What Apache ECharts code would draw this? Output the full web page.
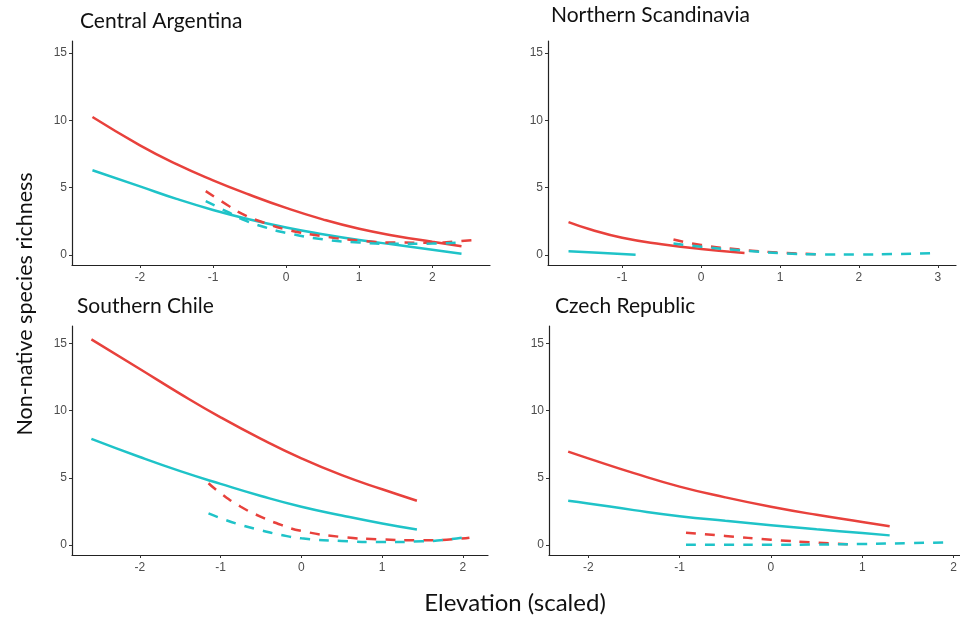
<!DOCTYPE html>
<html>
<head>
<meta charset="utf-8">
<script src="https://cdn.jsdelivr.net/npm/echarts@6/dist/echarts.min.js"></script>
<style>html,body{margin:0;padding:0;background:#fff}#c{width:960px;height:617px}</style>
</head>
<body>
<div id="c"></div>
<script>
// ---- data ----
const panelTitles = ["Central Argentina", "Northern Scandinavia", "Southern Chile", "Czech Republic"];
const yTicks = [0, 5, 10, 15];
const xTicksArgentina = [-2, -1, 0, 1, 2];
const xTicksScandinavia = [-1, 0, 1, 2, 3];
const xTicksChile = [-2, -1, 0, 1, 2];
const xTicksCzech = [-2, -1, 0, 1, 2];

// Central Argentina
const argRedSolid = [[-2.65,10.25],[-2,8.15],[-1.5,6.75],[-1,5.55],[-0.5,4.48],[0,3.5],[0.5,2.65],[1,1.95],[1.5,1.42],[2,0.98],[2.4,0.65]];
const argCyanSolid = [[-2.65,6.3],[-2,5.1],[-1.5,4.17],[-1,3.35],[-0.5,2.65],[0,2.05],[0.5,1.55],[1,1.12],[1.5,0.76],[2,0.4],[2.4,0.1]];
const argRedDashed = [[-1.1,4.75],[-0.8,3.7],[-0.6,3.05],[-0.3,2.4],[0,1.9],[0.5,1.4],[1,1.07],[1.5,0.93],[2,0.92],[2.3,1.0],[2.55,1.1]];
const argCyanDashed = [[-1.1,4.0],[-0.8,3.2],[-0.6,2.65],[-0.3,2.08],[0,1.65],[0.5,1.17],[1,0.93],[1.5,0.83],[2,0.85],[2.4,0.95]];

// Northern Scandinavia
const scaRedSolid = [[-1.68,2.45],[-1.4,1.9],[-1,1.28],[-0.5,0.8],[0,0.45],[0.55,0.15]];
const scaCyanSolid = [[-1.68,0.28],[-1.3,0.17],[-0.83,0.03]];
const scaRedDashed = [[-0.35,1.15],[0,0.75],[0.5,0.4],[1,0.18],[1.5,0.05]];
const scaCyanDashed = [[-0.35,0.85],[0,0.62],[0.5,0.35],[1,0.15],[1.5,0.05],[2,0.04],[2.5,0.08],[3.0,0.15]];

// Southern Chile
const chiRedSolid = [[-2.6,15.3],[-2,13.1],[-1.5,11.25],[-1,9.5],[-0.5,7.9],[0,6.45],[0.5,5.2],[1,4.15],[1.43,3.3]];
const chiCyanSolid = [[-2.6,7.9],[-2,6.55],[-1.5,5.5],[-1,4.55],[-0.5,3.65],[0,2.85],[0.5,2.2],[1,1.6],[1.43,1.15]];
const chiRedDashed = [[-1.15,4.6],[-1,3.85],[-0.75,2.85],[-0.5,2.1],[-0.25,1.5],[0,1.05],[0.5,0.6],[1,0.42],[1.5,0.36],[1.8,0.4],[2.08,0.55]];
const chiCyanDashed = [[-1.15,2.35],[-1,2.0],[-0.75,1.5],[-0.5,1.1],[-0.25,0.75],[0,0.5],[0.5,0.3],[1,0.22],[1.5,0.28],[1.8,0.4],[2.08,0.65]];

// Czech Republic
const czeRedSolid = [[-2.22,6.95],[-2,6.45],[-1.5,5.35],[-1,4.35],[-0.5,3.55],[0,2.85],[0.5,2.25],[1,1.72],[1.3,1.4]];
const czeCyanSolid = [[-2.22,3.3],[-2,3.1],[-1.5,2.6],[-1,2.15],[-0.5,1.8],[0,1.48],[0.5,1.17],[1,0.9],[1.3,0.72]];
const czeRedDashed = [[-0.93,0.92],[-0.5,0.68],[0,0.4],[0.5,0.18],[0.9,0.05]];
const czeCyanDashed = [[-0.93,0.03],[-0.5,0.02],[0,0.02],[0.5,0.04],[1,0.08],[1.5,0.14],[1.94,0.2]];

// ---- layout ----
const RED = '#e8413c', CYAN = '#1fc3c8';
const panels = [
  {grid:{left:72, top:41, width:418, height:224}, xmin:-2.93, xmax:2.79, ymin:-0.74, ymax:15.9, xt:xTicksArgentina,
   s:[argRedSolid, argCyanSolid, argRedDashed, argCyanDashed]},
  {grid:{left:548, top:41, width:408, height:224}, xmin:-1.94, xmax:3.23, ymin:-0.74, ymax:15.9, xt:xTicksScandinavia,
   s:[scaRedSolid, scaCyanSolid, scaRedDashed, scaCyanDashed]},
  {grid:{left:72, top:326, width:416, height:229}, xmin:-2.84, xmax:2.31, ymin:-0.74, ymax:16.3, xt:xTicksChile,
   s:[chiRedSolid, chiCyanSolid, chiRedDashed, chiCyanDashed]},
  {grid:{left:549, top:326, width:411, height:229}, xmin:-2.43, xmax:2.07, ymin:-0.74, ymax:16.3, xt:xTicksCzech,
   s:[czeRedSolid, czeCyanSolid, czeRedDashed, czeCyanDashed]}
];
const titlePos = [[75,6],[546,0],[72,291],[550,291]];

const axisCommon = {
  axisLine:{show:true, onZero:false, lineStyle:{color:'#222', width:1.2}},
  splitLine:{show:false},
  axisTick:{show:true, length:3, lineStyle:{color:'#333', width:1}},
  axisLabel:{color:'#4d4d4d', fontSize:12, fontFamily:'Liberation Sans, Arial, sans-serif', margin:5}
};

const option = {
  animation:false,
  backgroundColor:'#fff',
  grid:[], xAxis:[], yAxis:[], series:[],
  title: panelTitles.map((t,i)=>({text:t, left:titlePos[i][0], top:titlePos[i][1],
    textStyle:{fontFamily:'Lato, sans-serif', fontWeight:'normal', fontSize:21, color:'#111'}})),
  graphic:[
    {type:'text', x:515, y:603, style:{text:'Elevation (scaled)', font:'24px Lato, sans-serif', fill:'#111', textAlign:'center', textVerticalAlign:'middle'}},
    {type:'text', x:25, y:304, rotation:Math.PI/2, style:{text:'Non-native species richness', font:'21.5px Lato, sans-serif', fill:'#111', textAlign:'center', textVerticalAlign:'middle'}}
  ]
};

panels.forEach((p,i)=>{
  option.grid.push(Object.assign({containLabel:false}, p.grid));
  option.xAxis.push(Object.assign({}, axisCommon, {type:'value', gridIndex:i, min:p.xmin, max:p.xmax,
    axisTick:Object.assign({}, axisCommon.axisTick, {customValues:p.xt}),
    axisLabel:Object.assign({}, axisCommon.axisLabel, {customValues:p.xt, margin:7})}));
  option.yAxis.push(Object.assign({}, axisCommon, {type:'value', gridIndex:i, min:p.ymin, max:p.ymax,
    axisTick:Object.assign({}, axisCommon.axisTick, {customValues:yTicks}),
    axisLabel:Object.assign({}, axisCommon.axisLabel, {customValues:yTicks})}));
  const styles = [[RED,'solid'],[CYAN,'solid'],[RED,[10,9]],[CYAN,[10,9]]];
  p.s.forEach((d,j)=>{
    option.series.push({type:'line', xAxisIndex:i, yAxisIndex:i, data:d, smooth:0.5, showSymbol:false, symbol:'none',
      lineStyle:{color:styles[j][0], width:2.5, type:styles[j][1]}, z:2+j});
  });
});

const chart = echarts.init(document.getElementById('c'), null, {renderer:'canvas'});
chart.setOption(option);
</script>
</body>
</html>
